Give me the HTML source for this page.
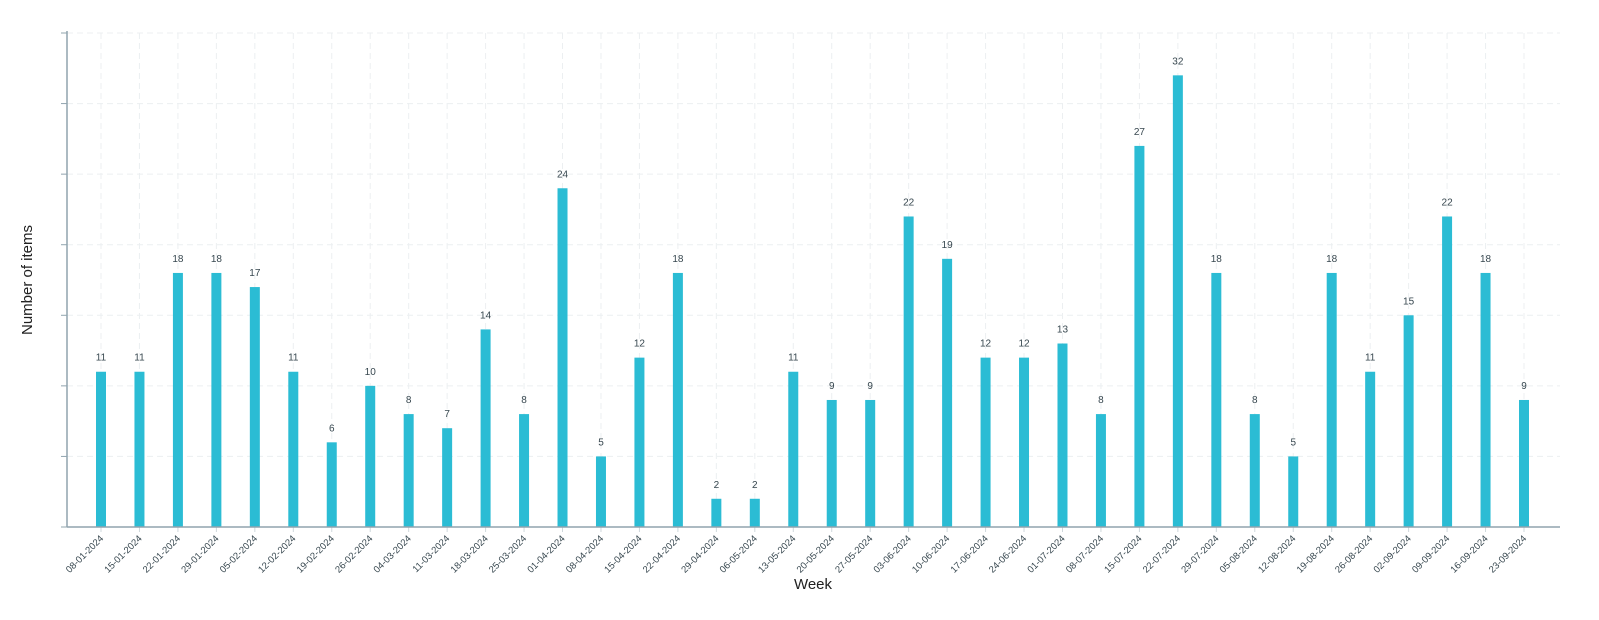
<!DOCTYPE html>
<html><head><meta charset="utf-8"><style>
body{margin:0;background:#fff;font-family:"Liberation Sans",sans-serif}
</style></head><body>
<svg id="chart" width="1599" height="615" xmlns="http://www.w3.org/2000/svg" font-family="Liberation Sans, sans-serif"></svg>
<script>
const categories=["08-01-2024","15-01-2024","22-01-2024","29-01-2024","05-02-2024","12-02-2024","19-02-2024","26-02-2024","04-03-2024","11-03-2024","18-03-2024","25-03-2024","01-04-2024","08-04-2024","15-04-2024","22-04-2024","29-04-2024","06-05-2024","13-05-2024","20-05-2024","27-05-2024","03-06-2024","10-06-2024","17-06-2024","24-06-2024","01-07-2024","08-07-2024","15-07-2024","22-07-2024","29-07-2024","05-08-2024","12-08-2024","19-08-2024","26-08-2024","02-09-2024","09-09-2024","16-09-2024","23-09-2024"];
const values=[11,11,18,18,17,11,6,10,8,7,14,8,24,5,12,18,2,2,11,9,9,22,19,12,12,13,8,27,32,18,8,5,18,11,15,22,18,9];
const yTicks=[0,5,10,15,20,25,30,35];
const NS="http://www.w3.org/2000/svg";
const svg=document.getElementById('chart');
const x0=67,x1=1560,yTop=33,yBot=527,yMax=35;
const firstC=101,lastC=1524;
const step=(lastC-firstC)/(categories.length-1);
const xs=i=>firstC+i*step;
const ys=v=>yBot-(v/yMax)*(yBot-yTop);
function mk(tag,attrs,parent){const e=document.createElementNS(NS,tag);for(const k in attrs)e.setAttribute(k,attrs[k]);(parent||svg).appendChild(e);return e;}
// grid
yTicks.forEach(t=>{
 const g=mk('line',{x1:x0,x2:x1,y1:ys(t),y2:ys(t),stroke:'#eceff1','stroke-dasharray':'6,4'});
 
 
 const tk=mk('line',{x1:x0-6,x2:x0,y1:ys(t),y2:ys(t),stroke:'#90a4ae'});
 
 
});
categories.forEach((c,i)=>{
 const g=mk('line',{x1:xs(i),x2:xs(i),y1:yTop,y2:yBot,stroke:'#eceff1','stroke-dasharray':'6,4'});
 
 
});
// bars
categories.forEach((c,i)=>{
 const v=values[i];
 const b=mk('rect',{x:xs(i)-5,y:ys(v),width:10,height:yBot-ys(v),fill:'#2bbcd4'});
 
 
 const l=mk('text',{x:xs(i),y:ys(v)-11,'text-anchor':'middle','font-size':'10',fill:'#37474f'});
 l.textContent=v;
 
 
 const tk=mk('line',{x1:xs(i),x2:xs(i),y1:yBot,y2:yBot+5,stroke:'#cfd8dc'});
 
 
 const t=mk('text',{x:xs(i)+3,y:yBot+12,'text-anchor':'end','font-size':'9.5',fill:'#37474f',transform:`rotate(-45 ${xs(i)+3} ${yBot+12})`});
 t.textContent=c;
 
 
});
// axes
const ya=mk('line',{x1:x0,x2:x0,y1:yTop-2,y2:yBot,stroke:'#90a4ae','stroke-width':'1.5'});


const xa=mk('line',{x1:x0,x2:x1,y1:yBot,y2:yBot,stroke:'#90a4ae','stroke-width':'1.5'});


const xt=mk('text',{x:813,y:589,'text-anchor':'middle','font-size':'15',fill:'#212121'});
xt.textContent='Week';


const yt=mk('text',{x:32,y:280,'text-anchor':'middle','font-size':'15',fill:'#212121',transform:'rotate(-90 32 280)'});
yt.textContent='Number of items';


</script>
</body></html>
